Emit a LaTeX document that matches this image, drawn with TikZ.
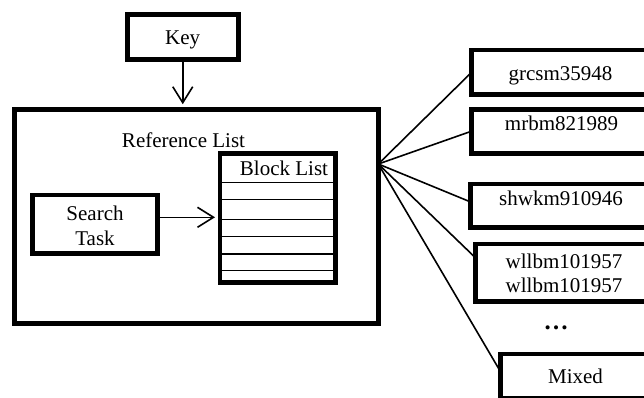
\documentclass[tikz,border=0pt]{standalone}
\usepackage{fontspec}
\setmainfont{Liberation Serif}
\usetikzlibrary{arrows.meta}
\begin{document}
\begin{tikzpicture}[x=1pt,y=-1pt,
  frame/.style={draw=black, line width=4.8pt, inner sep=0pt, outer sep=0pt},
  link/.style={draw=black, line width=1.6pt},
  arr/.style={link, -{Straight Barb[length=16pt,width=20pt]}},
  rowline/.style={draw=black, line width=1.5pt},
  lbl/.style={inner sep=0pt, anchor=base, font=\fontsize{21}{25}\selectfont}]
  \useasboundingbox (0,0) rectangle (644,397);
  \clip (0,0) rectangle (644,397);

  % left part: key, reference list, search task, block list
  \node[frame, minimum width=111.1pt, minimum height=44.7pt] (key) at (182.75,36.85) {};
  \node[frame, minimum width=364.1pt, minimum height=214.1pt] (main) at (196.25,216.25) {};
  \node[frame, minimum width=125.5pt, minimum height=58.5pt] (search) at (94.95,224.25) {};
  \node[frame, minimum width=115.8pt, minimum height=128.7pt] (blk) at (277.9,218.15) {};

  % rows of the block list
  \draw[draw=black, line width=1pt] (blk.west |- 0,182.3) -- (blk.east |- 0,182.3);
  \foreach \yy in {199.5,219.3,236.5,254.2,270.3}
    \draw[rowline] (blk.west |- 0,\yy) -- (blk.east |- 0,\yy);

  \node[lbl] (keyt) at (182.7,44.3) {Key};
  \node[lbl] (reft) at (183.5,147.6) {Reference List};
  \node[lbl] (blkt) at (284,175.7) {Block List};
  \node[lbl] (srch1) at (95,220.7) {Search};
  \node[lbl] (srch2) at (95,245) {Task};

  \draw[arr, shorten >=5pt] (key.south) -- (key.south |- main.north);
  \draw[arr, shorten >=5pt] (search.east |- 0,217.3) -- (blk.west |- 0,217.3);

  % right part: the result boxes, open on the right
  \node[frame, anchor=north west, minimum width=250pt, minimum height=44.8pt] (g) at (471.5,50) {};
  \node[frame, anchor=north west, minimum width=250pt, minimum height=44pt] (m) at (471.5,109.2) {};
  \node[frame, anchor=north west, minimum width=250pt, minimum height=43.5pt] (s) at (470.7,184) {};
  \node[frame, anchor=north west, minimum width=250pt, minimum height=57.7pt] (w) at (475.7,244) {};
  \node[frame, anchor=north west, minimum width=250pt, minimum height=44.5pt] (x) at (500.7,354) {};

  \node[lbl] (gt) at (560.5,80) {grcsm35948};
  \node[lbl] (mt) at (561.5,130.7) {mrbm821989};
  \node[lbl] (st) at (561,205) {shwkm910946};
  \node[lbl] (wt1) at (564,268.3) {wllbm101957};
  \node[lbl] (wt2) at (564,292.7) {wllbm101957};
  \node[lbl, font=\fontsize{25}{28}\selectfont\bfseries] (dots) at (556,329.5) {…};
  \node[lbl] (xt) at (575.5,383.3) {Mixed};

  % fan of connectors from the reference list
  \coordinate (fan) at (main.east |- 0,164);
  \draw[link] (fan) -- (g.west);
  \draw[link] (fan) -- (m.west);
  \draw[link] (fan) -- (s.west |- 0,202);
  \draw[link] (fan) -- (w.west |- 0,258);
  \draw[link] (fan) -- (x.west |- 0,372);
\end{tikzpicture}
\end{document}
